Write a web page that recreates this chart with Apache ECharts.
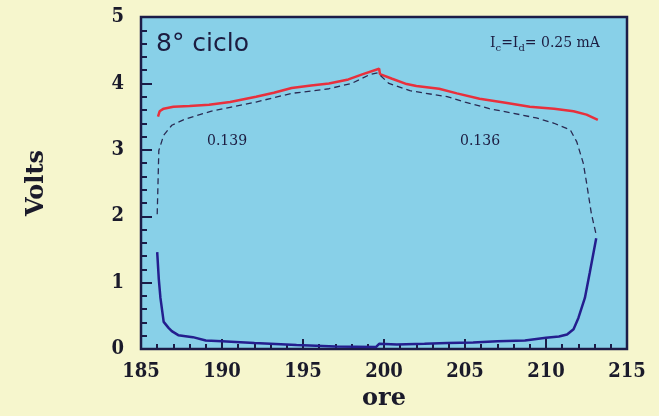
<!DOCTYPE html>
<html>
<head>
<meta charset="utf-8">
<script src="https://cdn.jsdelivr.net/npm/echarts@6/dist/echarts.min.js"></script>
<style>
  html, body { margin: 0; padding: 0; background: #f6f6cd; }
  #chart { width: 659px; height: 416px; }
</style>
</head>
<body>
<div id="chart"></div>
<script>
// Charge curve (hours, volts)
const chargeHours = [186.05, 186.15, 186.4, 187.0, 188.0, 189.2, 190.5, 192.1, 193.2, 194.3, 195.5, 196.6, 197.8, 198.7, 199.7, 199.75, 200.5, 201.4, 202.0, 203.4, 204.5, 205.9, 207.5, 209.0, 210.5, 211.7, 212.5, 213.2];
const chargeVolts = [3.50, 3.58, 3.62, 3.65, 3.66, 3.68, 3.72, 3.80, 3.86, 3.93, 3.97, 4.00, 4.06, 4.14, 4.22, 4.14, 4.07, 3.99, 3.96, 3.92, 3.85, 3.77, 3.71, 3.65, 3.62, 3.58, 3.53, 3.45];

// Dashed reference curve
const refHours = [186.0, 186.05, 186.1, 186.4, 186.9, 187.7, 189.3, 190.5, 192.1, 194.3, 196.6, 198.0, 199.1, 199.6, 200.3, 201.6, 203.9, 205.0, 206.5, 208.0, 209.4, 210.5, 211.5, 211.9, 212.3, 212.5, 212.8, 213.1];
const refVolts = [2.03, 2.50, 2.99, 3.22, 3.37, 3.46, 3.58, 3.64, 3.72, 3.85, 3.92, 4.00, 4.13, 4.16, 4.00, 3.89, 3.80, 3.72, 3.62, 3.55, 3.48, 3.40, 3.30, 3.12, 2.80, 2.51, 2.04, 1.72];

// Discharge curve
const dischargeHours = [186.0, 186.1, 186.2, 186.4, 186.7, 186.9, 187.3, 188.2, 189.0, 190.0, 192.0, 194.6, 197.0, 199.5, 199.7, 200.8, 202.5, 203.9, 205.5, 207.0, 208.7, 210.0, 210.8, 211.3, 211.7, 212.0, 212.4, 212.7, 213.1];
const dischargeVolts = [1.46, 1.05, 0.77, 0.41, 0.32, 0.27, 0.21, 0.18, 0.13, 0.12, 0.09, 0.06, 0.04, 0.03, 0.08, 0.07, 0.08, 0.09, 0.10, 0.12, 0.13, 0.17, 0.19, 0.22, 0.30, 0.47, 0.77, 1.15, 1.67];

// Axis ranges
const xRange = [185, 215, 5];
const yRange = [0, 5, 1];

// Annotations
const cycleLabel = '8° ciclo';
const efficiencyLeft = '0.139';
const efficiencyRight = '0.136';

const pairs = (xs, ys) => xs.map((x, i) => [x, ys[i]]);

const ink = '#1c1c48';
const tickFont = '"DejaVu Serif Condensed", "Liberation Serif", serif';

const chart = echarts.init(document.getElementById('chart'));
chart.setOption({
  animation: false,
  backgroundColor: '#f6f6cd',
  grid: {
    left: 141, right: 32, top: 17, bottom: 61,
    show: true,
    backgroundColor: '#88d0e8',
    borderColor: ink,
    borderWidth: 2.5
  },
  xAxis: {
    type: 'value',
    min: xRange[0], max: xRange[1], interval: xRange[2],
    name: 'ore',
    nameLocation: 'middle',
    nameGap: 37,
    nameTextStyle: { fontFamily: 'DejaVu Serif', fontWeight: 'bold', fontSize: 24, color: '#1a1a2a' },
    axisLine: { show: false },
    splitLine: { show: false },
    axisTick: { show: true, inside: true, length: 10, lineStyle: { color: ink, width: 2 } },
    minorTick: { show: true, splitNumber: 5, length: 5, lineStyle: { color: ink, width: 2 } },
    axisLabel: { margin: 13, fontFamily: tickFont, fontWeight: 'bold', fontSize: 20, color: '#1a1a2a' }
  },
  yAxis: {
    type: 'value',
    min: yRange[0], max: yRange[1], interval: yRange[2],
    name: 'Volts',
    nameLocation: 'middle',
    nameGap: 92,
    nameRotate: 90,
    nameTextStyle: { fontFamily: 'DejaVu Serif', fontWeight: 'bold', fontSize: 24, color: '#1a1a2a' },
    axisLine: { show: false },
    splitLine: { show: false },
    axisTick: { show: true, inside: true, length: 11, lineStyle: { color: ink, width: 2 } },
    minorTick: { show: true, splitNumber: 5, length: 6, lineStyle: { color: ink, width: 2 } },
    axisLabel: { margin: 17, fontFamily: tickFont, fontWeight: 'bold', fontSize: 20, color: '#1a1a2a' }
  },
  series: [
    {
      type: 'line', name: 'carica', data: pairs(chargeHours, chargeVolts),
      showSymbol: false, lineStyle: { color: '#e8303c', width: 2.5 }
    },
    {
      type: 'line', name: 'riferimento', data: pairs(refHours, refVolts),
      showSymbol: false, lineStyle: { color: '#2a2a52', width: 1.3, type: [6, 4] }
    },
    {
      type: 'line', name: 'scarica', data: pairs(dischargeHours, dischargeVolts),
      showSymbol: false, lineStyle: { color: '#241e8e', width: 2.5 }
    }
  ],
  graphic: [
    {
      type: 'text', left: 156, top: 32,
      style: { text: cycleLabel, font: '25px "DejaVu Sans", sans-serif', fill: '#1c1c40' }
    },
    {
      type: 'text', left: 490, top: 36,
      style: {
        text: 'I{s|c}=I{s|d}= 0.25 mA',
        font: '14px "DejaVu Serif", serif', fill: '#1c1c40',
        rich: { s: { fontSize: 10, fontFamily: 'DejaVu Serif', verticalAlign: 'bottom', padding: [10, 0, 0, 0] } }
      }
    },
    {
      type: 'text', left: 207, top: 134,
      style: { text: efficiencyLeft, font: '14px "DejaVu Serif", serif', fill: '#1c1c40' }
    },
    {
      type: 'text', left: 460, top: 134,
      style: { text: efficiencyRight, font: '14px "DejaVu Serif", serif', fill: '#1c1c40' }
    }
  ]
});
</script>
</body>
</html>
